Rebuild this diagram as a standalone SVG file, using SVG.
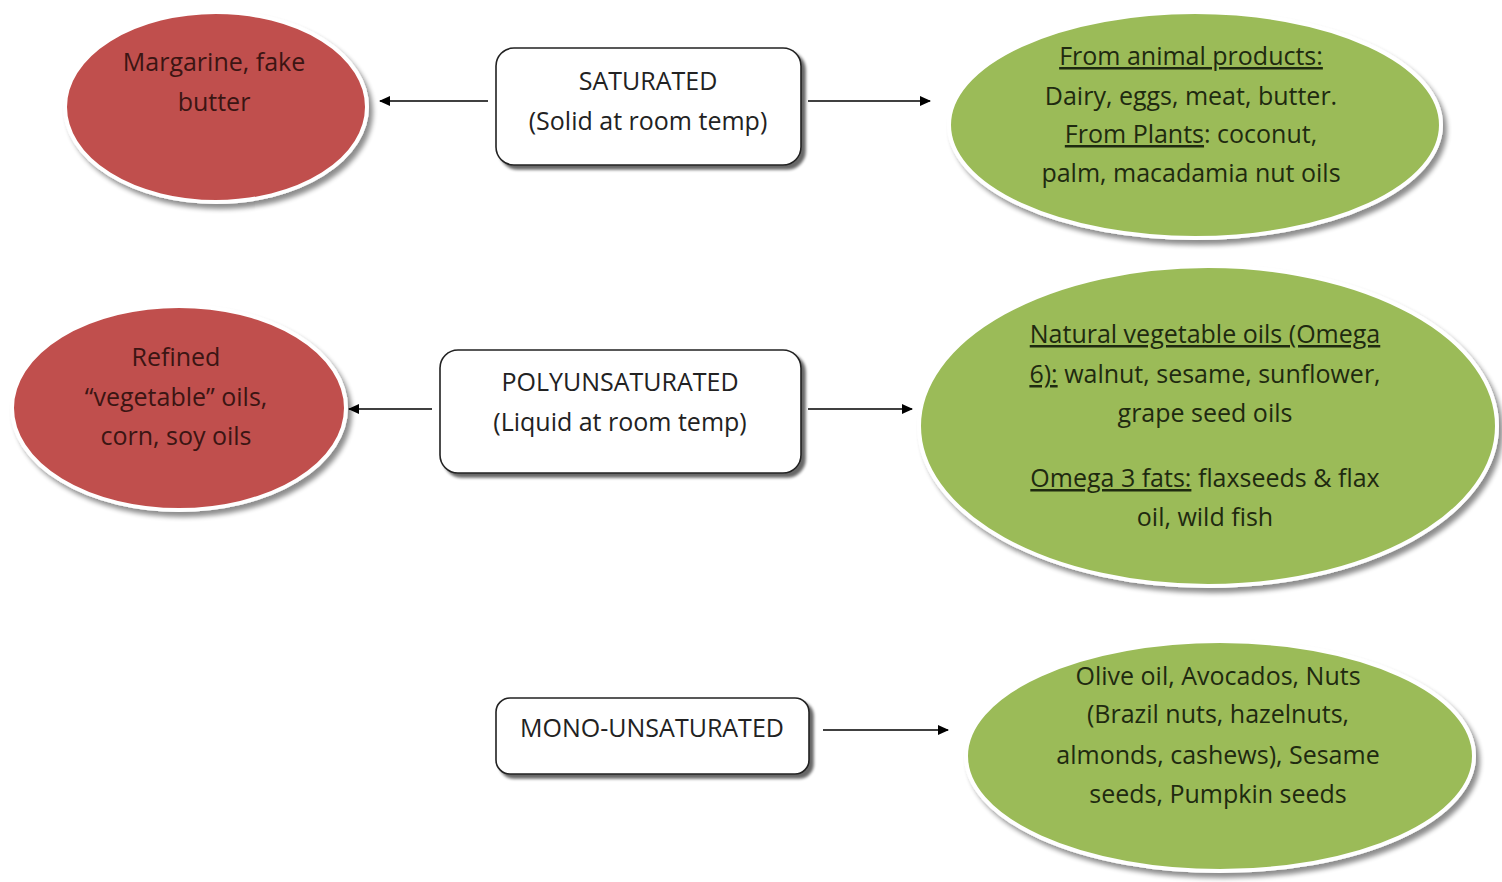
<svg xmlns="http://www.w3.org/2000/svg" width="1502" height="882" viewBox="0 0 1502 882">
<defs>
<filter id="sh" x="-10%" y="-10%" width="125%" height="130%">
<feGaussianBlur in="SourceAlpha" stdDeviation="2.5"/>
<feOffset dx="4" dy="5" result="b"/>
<feComponentTransfer><feFuncA type="linear" slope="0.45"/></feComponentTransfer>
<feMerge><feMergeNode/><feMergeNode in="SourceGraphic"/></feMerge>
</filter>
<filter id="bsh" x="-10%" y="-10%" width="125%" height="140%">
<feGaussianBlur in="SourceAlpha" stdDeviation="1.5"/>
<feOffset dx="4" dy="4" result="b"/>
<feComponentTransfer><feFuncA type="linear" slope="0.6"/></feComponentTransfer>
<feMerge><feMergeNode/><feMergeNode in="SourceGraphic"/></feMerge>
</filter>
<marker id="ah" markerWidth="11" markerHeight="11" refX="10" refY="5.5" orient="auto" markerUnits="userSpaceOnUse">
<path d="M0,0.5 L11,5.5 L0,10.5 Z" fill="#000"/>
</marker>
</defs>
<style>
.red{fill:#C0504D;stroke:#fff;stroke-width:4}
.green{fill:#9BBB59;stroke:#fff;stroke-width:4}
.box{fill:#fff;stroke:#222;stroke-width:1.6}
text{font-family:"Open Sans","Liberation Sans",sans-serif;font-size:25px;text-anchor:middle}
.rt{fill:#3b1513}
.gt{fill:#1f2a10}
.bt{fill:#222}
.u{text-decoration:underline}
.conn line{stroke:#000;stroke-width:1.4;marker-end:url(#ah)}
</style>
<rect width="1502" height="882" fill="#fff"/>

<g class="conn">
<line x1="488" y1="101" x2="380" y2="101"/>
<line x1="808" y1="101" x2="930" y2="101"/>
<line x1="432" y1="409" x2="349" y2="409"/>
<line x1="808" y1="409" x2="912" y2="409"/>
<line x1="823" y1="730" x2="948" y2="730"/>
</g>

<g id="red1">
<ellipse class="red" cx="216" cy="107" rx="151" ry="95" filter="url(#sh)"/>
<text class="rt" x="214" y="71">Margarine, fake</text>
<text class="rt" x="214" y="111">butter</text>
</g>

<g id="sat">
<rect class="box" x="496" y="48" width="305" height="117" rx="18" filter="url(#bsh)"/>
<text class="bt" x="648" y="90">SATURATED</text>
<text class="bt" x="648" y="130">(Solid at room temp)</text>
</g>

<g id="green1">
<ellipse class="green" cx="1195" cy="125" rx="246" ry="113" filter="url(#sh)"/>
<text class="gt" x="1191" y="65"><tspan class="u">From animal products:</tspan></text>
<text class="gt" x="1191" y="105">Dairy, eggs, meat, butter.</text>
<text class="gt" x="1191" y="143"><tspan class="u">From Plants</tspan>: coconut,</text>
<text class="gt" x="1191" y="182">palm, macadamia nut oils</text>
</g>

<g id="red2">
<ellipse class="red" cx="179" cy="408" rx="167" ry="102" filter="url(#sh)"/>
<text class="rt" x="176" y="366">Refined</text>
<text class="rt" x="176" y="406">“vegetable” oils,</text>
<text class="rt" x="176" y="445">corn, soy oils</text>
</g>

<g id="poly">
<rect class="box" x="440" y="350" width="361" height="123" rx="18" filter="url(#bsh)"/>
<text class="bt" x="620" y="391">POLYUNSATURATED</text>
<text class="bt" x="620" y="431">(Liquid at room temp)</text>
</g>

<g id="green2">
<ellipse class="green" cx="1208" cy="426" rx="289" ry="160" filter="url(#sh)"/>
<text class="gt" x="1205" y="343"><tspan class="u">Natural vegetable oils (Omega</tspan></text>
<text class="gt" x="1205" y="383"><tspan class="u">6):</tspan> walnut, sesame, sunflower,</text>
<text class="gt" x="1205" y="422">grape seed oils</text>
<text class="gt" x="1205" y="487"><tspan class="u">Omega 3 fats:</tspan> flaxseeds &amp; flax</text>
<text class="gt" x="1205" y="526">oil, wild fish</text>
</g>

<g id="mono">
<rect class="box" x="496" y="698" width="313" height="76" rx="14" filter="url(#bsh)"/>
<text class="bt" x="652" y="737">MONO-UNSATURATED</text>
</g>

<g id="green3">
<ellipse class="green" cx="1220" cy="756" rx="254" ry="115" filter="url(#sh)"/>
<text class="gt" x="1218" y="685">Olive oil, Avocados, Nuts</text>
<text class="gt" x="1218" y="723">(Brazil nuts, hazelnuts,</text>
<text class="gt" x="1218" y="764">almonds, cashews), Sesame</text>
<text class="gt" x="1218" y="803">seeds, Pumpkin seeds</text>
</g>
</svg>
